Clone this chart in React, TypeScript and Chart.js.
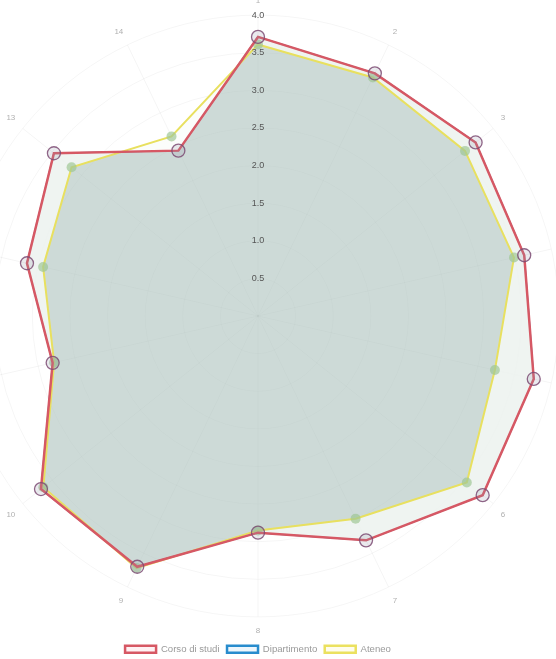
import React, { useEffect, useRef } from "react";
import { Chart, registerables } from "chart.js";

Chart.register(...registerables);

// ---- data ----
const categories = ["1", "2", "3", "4", "5", "6", "7", "8", "9", "10", "11", "12", "13", "14"];
const seriesNames = ["Corso di studi", "Dipartimento", "Ateneo"];
const corsoDiStudi = [3.71, 3.58, 3.7, 3.63, 3.76, 3.82, 3.31, 2.88, 3.7, 3.69, 2.8, 3.15, 3.47, 2.44];
const dipartimento = [3.71, 3.58, 3.7, 3.63, 3.76, 3.82, 3.31, 2.88, 3.7, 3.69, 2.8, 3.15, 3.47, 2.44];
const ateneo = [3.61, 3.52, 3.52, 3.49, 3.23, 3.55, 2.99, 2.85, 3.72, 3.65, 2.78, 2.93, 3.17, 2.65];
const scaleMin = 0;
const scaleMax = 4;
const scaleStep = 0.5;

const FONT = "Arial, 'Liberation Sans', Helvetica, sans-serif";
const legendFills = ["rgba(255,240,242,0.9)", "rgba(235,245,252,0.9)", "rgba(255,253,235,0.9)"];
const legendStrokes = ["rgb(214,88,100)", "rgb(40,140,205)", "rgb(235,225,95)"];

export default function App() {
  const ref = useRef<HTMLCanvasElement | null>(null);

  useEffect(() => {
    if (!ref.current) return;
    const chart = new Chart(ref.current, {
      type: "radar",
      data: {
        labels: categories,
        datasets: [
          {
            label: seriesNames[0],
            data: corsoDiStudi,
            order: 0,
            fill: false,
            borderColor: "rgb(214,88,100)",
            borderWidth: 2.5,
            backgroundColor: "rgba(255,99,132,0.1)",
            pointRadius: 6.5,
            pointBorderWidth: 1.3,
            pointBorderColor: "rgba(125,75,115,0.85)",
            pointBackgroundColor: "rgba(150,150,170,0.2)",
          },
          {
            label: seriesNames[1],
            data: dipartimento,
            order: 2,
            fill: "origin",
            borderColor: "rgb(40,140,205)",
            borderWidth: 1.5,
            backgroundColor: "rgba(172,193,188,0.6)",
            pointRadius: 0,
          },
          {
            label: seriesNames[2],
            data: ateneo,
            order: 1,
            fill: "-1",
            borderColor: "rgb(232,224,95)",
            borderWidth: 2,
            backgroundColor: "rgba(250,252,250,0.75)",
            pointRadius: 5,
            pointBorderWidth: 0,
            pointBorderColor: "rgba(160,200,140,0.6)",
            pointBackgroundColor: "rgba(160,200,150,0.7)",
          },
        ],
      },
      options: {
        responsive: false,
        animation: false,
        events: [],
        layout: { padding: 0 },
        scales: {
          r: {
            min: scaleMin,
            max: scaleMax,
            beginAtZero: true,
            grid: { circular: true, color: "rgba(0,0,0,0.04)" },
            angleLines: { color: "rgba(0,0,0,0.045)" },
            pointLabels: {
              color: "#b0b0b0",
              font: { size: 8, family: FONT },
              padding: 5,
            },
            ticks: {
              stepSize: scaleStep,
              z: 1,
              showLabelBackdrop: false,
              backdropPadding: 0,
              color: "#555",
              font: { size: 9, family: FONT },
              callback: (v: any) => Number(v).toFixed(1),
            },
          },
        },
        plugins: {
          tooltip: { enabled: false },
          legend: {
            position: "bottom",
            labels: {
              boxWidth: 31,
              boxHeight: 7,
              padding: 7.5,
              color: "#9a9a9a",
              font: { size: 9.6, family: FONT },
              sort: (a: any, b: any) => a.datasetIndex - b.datasetIndex,
              generateLabels: (c: any) =>
                (Chart.defaults.plugins.legend.labels.generateLabels as any)(c).map((l: any) => ({
                  ...l,
                  fillStyle: legendFills[l.datasetIndex],
                  strokeStyle: legendStrokes[l.datasetIndex],
                  lineWidth: 2.5,
                })),
            },
          },
        },
      },
    });
    return () => chart.destroy();
  }, []);

  return (
    <div style={{ position: "fixed", inset: 0, overflow: "hidden", background: "#fff" }}>
      <canvas
        ref={ref}
        width={800}
        height={668}
        style={{ position: "absolute", left: -142, top: -4, width: 800, height: 668 }}
      />
    </div>
  );
}
